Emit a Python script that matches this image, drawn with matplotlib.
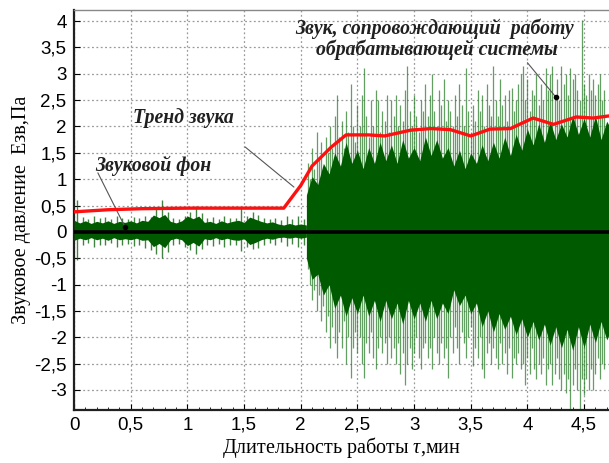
import numpy as np
import matplotlib
matplotlib.use("Agg")
import matplotlib.pyplot as plt

plt.rcParams['font.family'] = ['Liberation Sans', 'DejaVu Sans']
plt.rcParams['mathtext.fontset'] = 'custom'
plt.rcParams['mathtext.it'] = 'Liberation Serif:italic'
plt.rcParams['mathtext.rm'] = 'Liberation Serif'

# trend of the sound level (red line)
trend_t = [0, 0.3, 0.6, 1.0, 1.5, 1.85, 2.0, 2.1, 2.27, 2.4, 2.6, 2.74, 2.97,
           3.15, 3.32, 3.5, 3.67, 3.85, 4.05, 4.23, 4.43, 4.58, 4.72]
trend_v = [0.38, 0.42, 0.44, 0.45, 0.45, 0.45, 0.88, 1.25, 1.61, 1.84, 1.84, 1.82, 1.93,
           1.96, 1.94, 1.82, 1.95, 1.96, 2.16, 2.04, 2.18, 2.16, 2.2]

# background noise band (0 .. 2.05 min), step 0.05
bg_t = np.round(np.arange(0, 2.051, 0.05), 3)
bg_up = [0.22, 0.17, 0.21, 0.16, 0.2, 0.17, 0.21, 0.16, 0.2, 0.18,
         0.21, 0.17, 0.22, 0.2, 0.32, 0.27, 0.33, 0.2, 0.17, 0.21,
         0.3, 0.25, 0.3, 0.18, 0.2, 0.16, 0.21, 0.17, 0.2, 0.22,
         0.18, 0.28, 0.24, 0.2, 0.17, 0.19, 0.15, 0.13, 0.16, 0.13,
         0.15, 0.13]
bg_lo = [-0.16, -0.12, -0.15, -0.11, -0.15, -0.12, -0.16, -0.11, -0.15, -0.13,
         -0.15, -0.12, -0.16, -0.15, -0.28, -0.22, -0.3, -0.15, -0.12, -0.15,
         -0.26, -0.2, -0.27, -0.13, -0.15, -0.11, -0.15, -0.12, -0.15, -0.16,
         -0.13, -0.24, -0.2, -0.15, -0.12, -0.14, -0.11, -0.1, -0.12, -0.1,
         -0.12, -0.1]
# background peaks, step 0.05 from 0.025
bg_spike_t = np.round(np.arange(0.025, 2.03, 0.05), 3)
bg_spike_up = [0.6, 0.28, 0.25, 0.3, 0.26, 0.28, 0.24, 0.3, 0.27, 0.25,
               0.29, 0.26, 0.3, 0.28, 0.45, 0.6, 0.38, 0.27, 0.25, 0.3,
               0.38, 0.5, 0.35, 0.26, 0.28, 0.25, 0.3, 0.27, 0.26, 0.45,
               0.3, 0.38, 0.32, 0.26, 0.24, 0.27, 0.22, 0.3, 0.25, 0.3, 0.24]
bg_spike_lo = [-0.53, -0.25, -0.22, -0.28, -0.24, -0.25, -0.22, -0.28, -0.25, -0.23,
               -0.27, -0.24, -0.3, -0.35, -0.42, -0.5, -0.38, -0.25, -0.23, -0.28,
               -0.35, -0.42, -0.33, -0.24, -0.26, -0.23, -0.28, -0.25, -0.24, -0.36,
               -0.28, -0.32, -0.3, -0.24, -0.22, -0.25, -0.2, -0.27, -0.23, -0.28, -0.25]

# working sound: dense core, step 0.05 from 2.05
core_t = np.round(np.arange(2.05, 4.751, 0.05), 3)
core_up = [0.7, 1.05, 0.9, 1.3, 1.1, 1.5, 1.25, 1.7, 1.3, 1.55,
           1.2, 1.6, 1.3, 1.7, 1.35, 1.65, 1.3, 1.75, 1.4, 1.6,
           1.35, 1.8, 1.45, 1.75, 1.4, 1.6, 1.25, 1.55, 1.2, 1.5,
           1.3, 1.65, 1.35, 1.7, 1.4, 1.8, 1.45, 1.85, 1.55, 1.95,
           1.65, 2.05, 1.7, 2.1, 1.75, 2.05, 1.8, 2.2, 1.85, 2.15,
           1.8, 2.2, 1.75, 2.1, 1.9]
core_lo = [-0.5, -0.9, -0.8, -1.2, -1.0, -1.45, -1.2, -1.6, -1.25, -1.55,
           -1.2, -1.6, -1.3, -1.7, -1.3, -1.65, -1.35, -1.75, -1.3, -1.65,
           -1.35, -1.7, -1.3, -1.65, -1.35, -1.55, -1.1, -1.4, -1.2, -1.55,
           -1.35, -1.8, -1.5, -1.9, -1.55, -1.85, -1.6, -1.95, -1.65, -2.0,
           -1.7, -2.05, -1.75, -2.15, -1.8, -2.2, -1.85, -2.25, -1.8, -2.2,
           -1.75, -2.1, -1.7, -2.05, -1.8]

# working sound: peaks, step 0.02 from 2.06
spike_t = np.round(np.arange(2.06, 4.681, 0.02), 3)
spike_up = [1.3, 1.0, 1.6, 1.2, 1.9, 1.4, 1.7, 1.2, 1.8, 1.5, 2.0, 1.6, 2.2,
            2.6, 1.8, 2.1, 1.6, 2.3, 1.9, 2.8, 2.0, 1.7, 2.4,
            2.0, 2.6, 3.1, 2.2, 1.8, 2.5, 2.0, 2.7, 2.5, 1.9,
            2.3, 2.1, 2.6, 1.9, 2.5, 2.2, 2.6, 2.0, 2.4, 2.1,
            2.7, 3.14, 2.3, 2.0, 2.6, 2.2, 1.9, 2.5, 2.3, 2.8,
            2.2, 2.6, 3.0, 2.3, 2.0, 2.7, 2.4, 2.9, 2.1, 2.5,
            2.3, 2.0, 2.6, 2.2, 2.8, 2.4, 2.0, 3.1, 2.3, 1.9,
            2.4, 2.1, 2.7, 2.3, 2.6, 2.0, 2.8, 2.4, 2.2, 3.14,
            2.5, 2.2, 2.9, 2.4, 2.6, 2.1, 2.7, 2.73, 2.3, 2.5,
            2.8, 3.0, 3.14, 2.5, 2.9, 2.3, 2.7, 2.6, 3.0, 2.4,
            2.8, 2.5, 3.1, 2.7, 3.0, 3.14, 2.6, 2.9, 2.5, 3.14,
            2.8, 3.0, 2.6, 3.1, 2.9, 3.0, 2.7, 2.5, 4.02, 2.8,
            2.6, 3.0, 2.7, 2.9, 2.6, 2.8, 3.0, 2.5, 2.7]
spike_lo = [-0.7, -1.0, -1.3, -1.1, -1.5, -1.2, -1.7, -1.4, -1.9, -1.6, -2.2, -1.8, -2.1,
            -2.4, -1.9, -2.2, -1.7, -2.5, -2.0, -2.78, -2.2, -1.9, -2.3,
            -2.0, -2.5, -2.78, -2.1, -2.3, -1.9, -2.4, -2.6, -2.2, -2.0,
            -2.3, -2.1, -2.5, -2.0, -2.4, -2.2, -2.5, -2.1, -2.7, -2.3,
            -2.9, -2.5, -2.2, -2.6, -2.3, -2.0, -2.4, -2.6, -2.2, -2.1,
            -2.4, -2.2, -2.6, -2.0, -2.3, -2.5, -2.1, -2.4, -2.2, -2.78,
            -2.0, -2.3, -1.8, -2.2, -2.5, -1.9, -2.1, -2.4, -2.0, -1.8,
            -2.55, -2.2, -2.4, -2.0, -2.6, -2.78, -2.3, -2.1, -2.5, -2.2,
            -2.4, -2.6, -2.1, -2.5, -2.3, -2.7, -2.2, -2.78, -2.4, -2.5,
            -2.3, -2.6, -2.5, -2.9, -2.4, -2.7, -2.2, -2.6, -2.8, -2.5,
            -2.7, -2.4, -2.9, -2.6, -2.5, -2.9, -2.7, -2.4, -2.8, -3.0,
            -2.7, -3.06, -2.8, -3.38, -2.9, -2.6, -3.0, -3.38, -2.8, -3.1,
            -2.8, -3.0, -2.6, -3.0, -2.7, -2.4, -2.8, -2.5, -2.6]

x_ticks = [0, 0.5, 1, 1.5, 2, 2.5, 3, 3.5, 4, 4.5]
y_ticks = [-3, -2.5, -2, -1.5, -1, -0.5, 0, 0.5, 1, 1.5, 2, 2.5, 3, 3.5, 4]


def comma(v):
    s = f'{v:g}'
    return s.replace('.', ',')


dark = '#005a00'
light = '#2f7f2f'

fig = plt.figure(figsize=(6.09, 4.63), dpi=100)
ax = fig.add_axes([73.5 / 609, 1 - 410 / 463, 1 - 73.5 / 609, 400 / 463])

ax.vlines(spike_t, spike_lo, spike_up, color=light, lw=0.9, alpha=0.75, zorder=2)
ax.fill_between(core_t, core_lo, core_up, color=dark, lw=0, zorder=3)
ax.vlines(bg_spike_t, bg_spike_lo, bg_spike_up, color=dark, lw=1.0, alpha=0.75, zorder=2)
ax.fill_between(bg_t, bg_lo, bg_up, color=dark, lw=0, zorder=3)

ax.axhline(0, color='black', lw=2.6, zorder=4)
ax.plot(trend_t, trend_v, color='#ff1010', lw=2.4, zorder=5)

ax.set_xlim(-0.005, 4.72)
ax.set_ylim(-3.38, 4.21)
ax.set_xticks(x_ticks)
ax.set_xticklabels([comma(v) for v in x_ticks])
ax.set_yticks(y_ticks)
ax.set_yticklabels([comma(v) for v in y_ticks])
ax.set_xticks(np.arange(0, 4.71, 0.1), minor=True)
ax.tick_params(axis='both', which='major', labelsize=13.5, direction='in', length=4, pad=5)
ax.tick_params(axis='x', which='minor', direction='in', length=2)
ax.grid(True, color='#9a9a9a', ls=(0, (1.5, 2)), lw=0.9)
ax.set_axisbelow(True)

for side in ['left', 'bottom']:
    ax.spines[side].set_linewidth(1.6)
    ax.spines[side].set_color('#202020')
ax.spines['top'].set_color('#888888')
ax.spines['top'].set_linewidth(1.0)
ax.spines['right'].set_visible(False)

ax.set_xlabel('Длительность работы $\\tau$,мин', family='Liberation Serif', fontsize=14.5, labelpad=1)
ax.set_ylabel('Звуковое давление  Eзв,Па', family='Liberation Serif', fontsize=14.5, labelpad=2)

note = dict(family='Liberation Serif', style='italic', weight='bold', fontsize=14.2, color='#202020')
leader = dict(arrowstyle='-', color='#555555', lw=0.8, shrinkA=0, shrinkB=0)

ax.text(0.19, 1.25, 'Звуковой фон', ha='left', va='center', **note)
ax.annotate('', xy=(0.45, 0.09), xytext=(0.21, 1.12), arrowprops=leader)
ax.plot([0.45], [0.09], 'o', color='black', ms=3, zorder=6)

ax.text(0.52, 2.16, 'Тренд звука', ha='left', va='center', **note)
ax.annotate('', xy=(1.94, 0.85), xytext=(1.51, 1.61), arrowprops=leader)

ax.text(3.18, 3.86, 'Звук, сопровождающий  работу', ha='center', va='center', **note)
ax.text(3.2, 3.45, 'обрабатывающей системы', ha='center', va='center', **note)
ax.annotate('', xy=(4.25, 2.56), xytext=(4.0, 3.21), arrowprops=leader)
ax.plot([4.25], [2.56], 'o', color='black', ms=3, zorder=6)

fig.savefig('out.png', dpi=100)
